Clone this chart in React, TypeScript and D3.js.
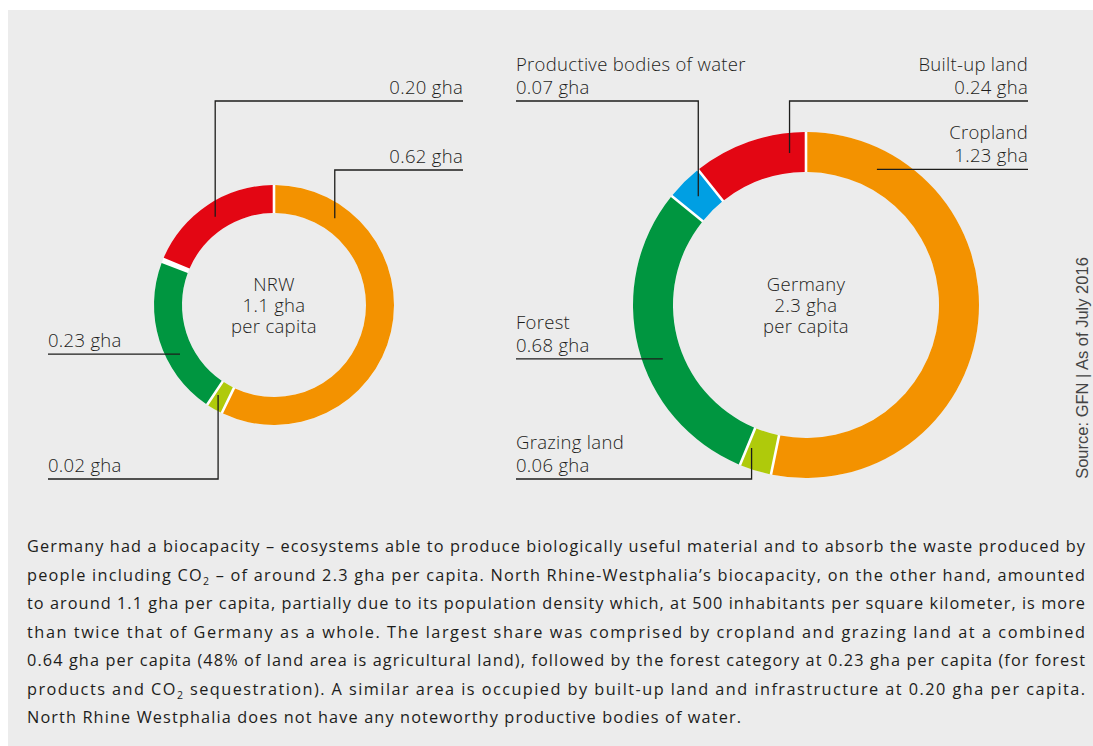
import React from 'react';
import * as d3 from 'd3';

// categories in clockwise order from 12 o'clock
const categories = ['Cropland', 'Grazing land', 'Forest', 'Productive bodies of water', 'Built-up land'];
const colors = ['#f39200', '#afca0b', '#009640', '#009fe3', '#e30613'];
const nrwValues = [0.62, 0.02, 0.23, 0, 0.2];
const germanyValues = [1.23, 0.06, 0.68, 0.07, 0.24];
const nrwTitle = ['NRW', '1.1 gha', 'per capita'];
const germanyTitle = ['Germany', '2.3 gha', 'per capita'];

const bodyLines = [
  ['Germany had a biocapacity \u2013 ecosystems able to produce biologically useful material and to absorb the waste produced by'],
  ['people including CO', '2', ' \u2013 of around 2.3 gha per capita. North Rhine-Westphalia\u2019s biocapacity, on the other hand, amounted'],
  ['to around 1.1 gha per capita, partially due to its population density which, at 500 inhabitants per square kilometer, is more'],
  ['than twice that of Germany as a whole. The largest share was comprised by cropland and grazing land at a combined'],
  ['0.64 gha per capita (48% of land area is agricultural land), followed by the forest category at 0.23 gha per capita (for forest'],
  ['products and CO', '2', ' sequestration). A similar area is occupied by built-up land and infrastructure at 0.20 gha per capita.'],
  ['North Rhine Westphalia does not have any noteworthy productive bodies of water.'],
];
const source = 'Source: GFN | As of July 2016';

const fmt = d3.format('.2f');
const FONT = '"Open Sans", Roboto, "Liberation Sans", sans-serif';
const INK = '#1d1d1b';
const LABEL_SIZE = 18.5;
const LABEL_SPACING = 0.3;

type LabelSpec = { side: 'left' | 'right'; edge: number; t: number; lineY: number | null };

const nrwLayout: Record<number, LabelSpec> = {
  0: { side: 'right', edge: 463, t: 0.17, lineY: 170 },
  1: { side: 'left', edge: 48, t: 0.75, lineY: 479 },
  2: { side: 'left', edge: 48, t: 0.37, lineY: null },
  4: { side: 'right', edge: 463, t: 0.5, lineY: 101 },
};
const germanyLayout: Record<number, LabelSpec> = {
  0: { side: 'right', edge: 1028, t: 0.144, lineY: null },
  1: { side: 'left', edge: 516, t: 0.85, lineY: 479 },
  2: { side: 'left', edge: 516, t: 0.44, lineY: null },
  3: { side: 'left', edge: 516, t: 0.5, lineY: 101 },
  4: { side: 'right', edge: 1028, t: 0.84, lineY: 101 },
};

function Donut(props: {
  values: number[];
  cx: number;
  cy: number;
  rOuter: number;
  rInner: number;
  title: string[];
  layout: Record<number, LabelSpec>;
  named: boolean;
}) {
  const { values, cx, cy, rOuter, rInner, title, layout, named } = props;
  const pie = d3.pie<number>().sort(null).value((d) => d).padAngle(0.026);
  const arcs = pie(values);
  const arc = d3.arc<d3.PieArcDatum<number>>().innerRadius(rInner).outerRadius(rOuter).padRadius(100);
  const ring = d3.arc<any>().innerRadius(rInner).outerRadius(rOuter).startAngle(0).endAngle(2 * Math.PI);
  const rm = (rInner + rOuter) / 2;

  return (
    <g>
      <path d={ring({}) as string} transform={`translate(${cx},${cy})`} fill="#fff" />
      <g transform={`translate(${cx},${cy})`}>
        {arcs.map((a, i) =>
          a.value > 0 ? <path key={i} d={arc(a) as string} fill={colors[i]} /> : null
        )}
      </g>
      {title.map((s, i) => (
        <text
          key={i}
          x={cx}
          y={cy - 14 + i * 21}
          textAnchor="middle"
          fontSize={LABEL_SIZE}
          letterSpacing={LABEL_SPACING}
          fontWeight={300}
          fill={INK}
        >
          {s}
        </text>
      ))}
      {arcs.map((a, i) => {
        const spec = layout[i];
        if (!spec || a.value <= 0) return null;
        const ang = a.startAngle + spec.t * (a.endAngle - a.startAngle);
        const ax = cx + rm * Math.sin(ang);
        const ay = cy - rm * Math.cos(ang);
        const ly = spec.lineY == null ? ay : spec.lineY;
        const pts: [number, number][] = [[spec.edge, ly], [ax, ly]];
        if (spec.lineY != null) pts.push([ax, ay]);
        const lines = named ? [categories[i], fmt(a.value) + ' gha'] : [fmt(a.value) + ' gha'];
        return (
          <g key={'l' + i}>
            <path d={d3.line()(pts) as string} fill="none" stroke={INK} strokeWidth={1.3} />
            {lines.map((s, k) => (
              <text
                key={k}
                x={spec.edge}
                y={ly - 7 - (lines.length - 1 - k) * 23}
                textAnchor={spec.side === 'right' ? 'end' : 'start'}
                fontSize={LABEL_SIZE}
                letterSpacing={LABEL_SPACING}
                fontWeight={300}
                fill={INK}
              >
                {s}
              </text>
            ))}
          </g>
        );
      })}
    </g>
  );
}

export default function App() {
  const textLeft = 27;
  const textWidth = 1058;
  const lineY = d3.scaleLinear().domain([0, 1]).range([552, 580.5]);
  return (
    <svg
      width={1093}
      height={746}
      style={{ position: 'absolute', left: 0, top: 0, background: '#fff' }}
      fontFamily={FONT}
    >
      <rect x={8} y={10} width={1085} height={736} fill="#ececec" />
      <Donut values={nrwValues} cx={274} cy={305} rOuter={120} rInner={92} title={nrwTitle} layout={nrwLayout} named={false} />
      <Donut values={germanyValues} cx={806} cy={305} rOuter={173} rInner={133} title={germanyTitle} layout={germanyLayout} named={true} />
      <text
        transform="translate(1088,368) rotate(-90)"
        textAnchor="middle"
        fontSize={16.5}
        fill="#444"
        fontFamily='"Liberation Sans", Arial, sans-serif'
      >
        {source}
      </text>
      {bodyLines.map((parts, i) => (
        <text
          key={i}
          x={textLeft}
          y={lineY(i)}
          fontSize={16.3}
          fill={INK}
          textLength={i < bodyLines.length - 1 ? textWidth : 714}
          lengthAdjust="spacing"
        >
          {parts.map((p, k) =>
            k === 1 ? (
              <tspan key={k} fontSize={10.5} dy={4}>
                {p}
              </tspan>
            ) : (
              <tspan key={k} dy={k === 2 ? -4 : 0}>
                {p}
              </tspan>
            )
          )}
        </text>
      ))}
    </svg>
  );
}
